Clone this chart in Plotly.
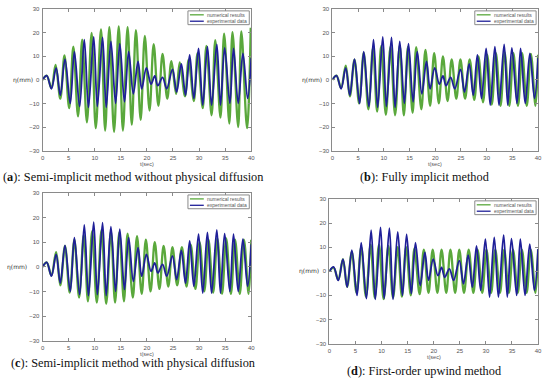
import plotly.graph_objects as go

# ---------------- data ----------------
t_exp = [0, 0.8, 1.7, 2.6, 3.4, 4.3, 5.3, 6.1, 7.1, 8.0,
         8.8, 9.8, 10.5, 11.5, 12.2, 13.1, 14.0, 14.8, 15.7, 16.5,
         17.4, 18.3, 19.0, 19.9, 20.8, 21.5, 22.1, 23.0, 23.8, 24.9,
         25.7, 26.6, 27.4, 28.2, 29.0, 29.9, 30.7, 31.6, 32.4, 33.4,
         34.1, 34.9, 35.9, 36.6, 37.5, 38.4, 39.3, 40.0]
eta_exp = [0, 1.8, -3.8, 5, -6.6, 8.7, -10, 11.9, -11.3, 17,
           -11.7, 18.2, -11.3, 17.9, -11.7, 16.3, -10, 15.3, -9.3, 11.9,
           -5.9, 7.8, -3.8, 5, -1.8, 1.6, -2.5, 1, -3.8, 4.4,
           -5.2, 6.7, -6.6, 10.5, -7.9, 13.3, -10.7, 14, -10.7, 15,
           -10.7, 13.5, -10, 13.3, -10, 11.2, -7.9, 9.2]

t_num_a = [0, 0.8, 1.7, 2.5, 3.4, 4.2, 5.1, 5.9, 6.8, 7.6,
           8.5, 9.4, 10.2, 11.2, 12.0, 12.8, 13.7, 14.6, 15.4, 16.3,
           17.1, 17.9, 18.8, 19.6, 20.5, 21.3, 22.2, 23.0, 23.9, 24.7,
           25.6, 26.3, 27.3, 28.0, 29.0, 29.7, 30.7, 31.4, 32.4, 33.1,
           34.1, 34.8, 35.8, 36.4, 37.5, 38.1, 39.2, 39.9]
eta_num_a = [0, 1.8, -3.5, 6.3, -8, 10.3, -12, 14, -15.5, 17,
             -18, 19.8, -20.5, 21.3, -21.5, 22.3, -22, 22.6, -21.5, 22.3,
             -19, 21, -17, 18.6, -13, 15.1, -11, 11, -8, 7.9,
             -6, 7.4, -7, 8.5, -9, 11.3, -12, 14.3, -15, 16.8,
             -16, 19.5, -18.5, 20.2, -20, 20.5, -20.5, 22]

t_num = [0, 0.8, 1.7, 2.6, 3.4, 4.3, 5.2, 6.1, 7.0, 7.9,
         8.7, 9.5, 10.4, 11.3, 12.2, 13.1, 13.9, 14.7, 15.6, 16.3,
         17.3, 18.1, 19.0, 19.8, 20.7, 21.5, 22.4, 23.2, 24.1, 24.9,
         25.8, 26.7, 27.6, 28.4, 29.3, 30.1, 31.0, 31.8, 32.7, 33.5,
         34.4, 35.2, 36.1, 36.9, 37.8, 38.6, 39.5, 40.0]
eta_num_b = [0, 1.8, -3.5, 6, -7, 8.5, -10, 11.5, -12.5, 13.5,
             -13.5, 14.3, -14.8, 14, -15, 14.5, -15, 14, -14, 13.8,
             -12.5, 12.7, -11, 11.3, -10, 9.9, -9, 8.6, -8, 8.6,
             -8, 8.6, -8.5, 9.9, -9.5, 10.6, -10.5, 11.3, -11, 11.6,
             -11, 11.3, -11, 11.3, -11, 11, -11, 10.6]
eta_num_c = [0, 1.8, -3.5, 6, -7.5, 8.5, -10.5, 11, -12.5, 13,
             -14, 14.5, -14.5, 15, -15, 14.5, -14.5, 14, -14, 13.5,
             -12.5, 12.5, -11, 11, -10, 10, -9, 8.5, -8, 8,
             -7.5, 8, -8, 9, -9, 10, -10, 11, -10.5, 11.5,
             -11, 11.5, -11, 11, -11, 11, -11, 11]
eta_num_d = [0, 1.5, -3.5, 5, -6.5, 8, -9, 10, -10.5, 11,
             -11, 11, -11.5, 10.5, -11, 10, -10.5, 10, -10, 9.5,
             -9.5, 9, -9, 9, -9, 9, -9, 9, -9, 9,
             -9, 9, -9, 9, -9, 9, -9, 9, -9, 9,
             -9, 9, -9, 9, -9, 9, -9, 9]

x_ticks = [0, 5, 10, 15, 20, 25, 30, 35, 40]
y_ticks = [-30, -20, -10, 0, 10, 20, 30]
series_names = ["numerical results", "experimental data"]
captions = [
    "(<b>a</b>): Semi-implicit method without physical diffusion",
    "(<b>b</b>): Fully implicit method",
    "(<b>c</b>): Semi-implicit method with physical diffusion",
    "(<b>d</b>): First-order upwind method",
]
y_label = "η(mm)"
x_label = "t(sec)"

GREEN = "#5aa83c"
BLUE = "#1f1f98"
W, H = 550, 385

# panel boxes in pixels: (left, right, top, bottom)
boxes = [(41, 252, 6, 150), (334, 542, 6, 150), (41, 252, 193, 343), (331, 542, 199, 346)]
ylab_right = [33, 326, 27, 323]
xlab_y = [164, 164, 357, 360]
cap_pos = [(132, 177), (427, 177), (132, 366), (427, 374)]

panels = [(t_num_a, eta_num_a), (t_num, eta_num_b), (t_num, eta_num_c), (t_num, eta_num_d)]
colors = [GREEN, BLUE]

fig = go.Figure()
layout = dict(width=W, height=H, margin=dict(l=0, r=0, t=0, b=0),
              paper_bgcolor="white", plot_bgcolor="white", showlegend=False)
annotations = []
shapes = []


def px(x):
    return x / W


def py(y):
    return 1 - y / H


for i, ((tn, en), box) in enumerate(zip(panels, boxes)):
    k = "" if i == 0 else str(i + 1)
    xa, ya = "x" + k, "y" + k
    fig.add_trace(go.Scatter(x=tn, y=en, mode="lines", name=series_names[0],
                             line=dict(color=GREEN, width=2.3, shape="spline", smoothing=1.0),
                             xaxis=xa, yaxis=ya))
    fig.add_trace(go.Scatter(x=t_exp, y=eta_exp, mode="lines", name=series_names[1],
                             line=dict(color=BLUE, width=1.8, shape="spline", smoothing=1.0),
                             xaxis=xa, yaxis=ya))
    l, r, t, b = box
    axcommon = dict(showgrid=False, zeroline=False, showline=True, linecolor="#8a8a8a",
                    linewidth=1, mirror="ticks", ticks="inside", ticklen=3,
                    tickcolor="#8a8a8a", tickfont=dict(size=6, color="#555555",
                                                      family="Liberation Sans"))
    layout["xaxis" + k] = dict(domain=[px(l), px(r)], range=[0, 40], tickvals=x_ticks,
                               anchor=ya, ticklabelstandoff=1, **axcommon)
    layout["yaxis" + k] = dict(domain=[py(b), py(t)], range=[-30, 30], tickvals=y_ticks,
                               anchor=xa, ticklabelstandoff=1, **axcommon)

    # legend box (drawn like the MATLAB legend)
    lx0, lx1 = r - 64, r - 2
    ly0, ly1 = t + 2, t + 16
    shapes.append(dict(type="rect", xref="paper", yref="paper", x0=px(lx0), x1=px(lx1),
                       y0=py(ly1), y1=py(ly0), line=dict(color="#8a8a8a", width=1),
                       fillcolor="white", layer="above"))
    for j in range(2):
        yy = ly0 + 4 + j * 6.5
        shapes.append(dict(type="line", xref="paper", yref="paper", x0=px(lx0 + 2),
                           x1=px(lx0 + 16), y0=py(yy), y1=py(yy),
                           line=dict(color=colors[j], width=1.3), layer="above"))
        annotations.append(dict(text=series_names[j], x=px(lx0 + 17), y=py(yy),
                                xref="paper", yref="paper", xanchor="left", yanchor="middle",
                                showarrow=False,
                                font=dict(size=5, color="#555555", family="Liberation Sans")))

    zero_y = (t + b) / 2
    annotations.append(dict(text=y_label, x=px(ylab_right[i]), y=py(zero_y), xref="paper",
                            yref="paper", xanchor="right", yanchor="middle", showarrow=False,
                            font=dict(size=6, color="#333333", family="DejaVu Sans")))
    annotations.append(dict(text=x_label, x=px((l + r) / 2), y=py(xlab_y[i]), xref="paper",
                            yref="paper", xanchor="center", yanchor="middle", showarrow=False,
                            font=dict(size=5.5, color="#555555", family="Liberation Sans")))
    cx, cy = cap_pos[i]
    annotations.append(dict(text=captions[i], x=px(cx), y=py(cy), xref="paper", yref="paper",
                            xanchor="center", yanchor="middle", showarrow=False,
                            font=dict(size=12.3, color="#111111", family="Liberation Serif")))

layout["annotations"] = annotations
layout["shapes"] = shapes
fig.update_layout(**layout)
fig.write_html("out.html", config={"displayModeBar": False},
               post_script="document.body.style.margin='0px';document.body.style.overflow='hidden';")
